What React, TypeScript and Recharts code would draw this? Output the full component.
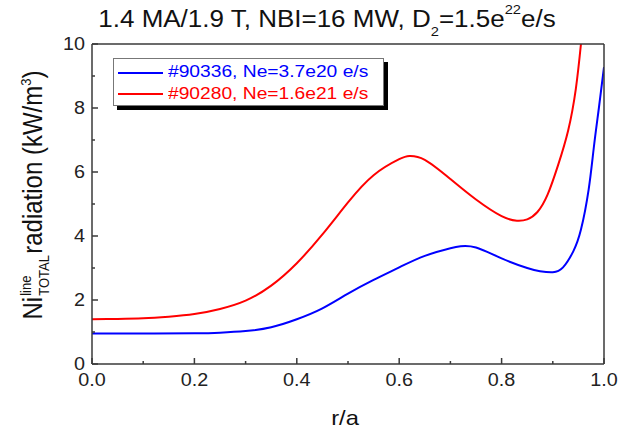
import { LineChart, Line, XAxis, YAxis } from "recharts";

// #90280 (red), Ne=1.6e21 e/s
const redR = [0, 0.05, 0.1, 0.15, 0.2, 0.25, 0.3, 0.35, 0.4, 0.45, 0.5, 0.55, 0.6, 0.62, 0.65, 0.7, 0.75, 0.8, 0.83, 0.85, 0.87, 0.89, 0.91, 0.93, 0.945, 0.955, 0.965];
const redV = [1.4, 1.41, 1.43, 1.48, 1.56, 1.72, 1.98, 2.45, 3.15, 4.05, 5.05, 5.9, 6.4, 6.5, 6.38, 5.78, 5.14, 4.62, 4.48, 4.52, 4.75, 5.3, 6.2, 7.3, 8.6, 10.0, 11.6];

// #90336 (blue), Ne=3.7e20 e/s
const blueR = [0, 0.1, 0.2, 0.25, 0.3, 0.35, 0.4, 0.45, 0.5, 0.55, 0.6, 0.65, 0.7, 0.72, 0.75, 0.8, 0.85, 0.875, 0.9, 0.92, 0.94, 0.955, 0.97, 0.98, 0.99, 1.0];
const blueV = [0.95, 0.95, 0.96, 0.98, 1.03, 1.15, 1.4, 1.74, 2.2, 2.63, 3.02, 3.38, 3.62, 3.68, 3.64, 3.3, 3.0, 2.9, 2.87, 3.02, 3.52, 4.2, 5.45, 6.75, 8.0, 9.28];

const xTicks = [0, 0.1, 0.2, 0.3, 0.4, 0.5, 0.6, 0.7, 0.8, 0.9, 1.0];
const yTicks = [0, 1, 2, 3, 4, 5, 6, 7, 8, 9, 10];

const redData = redR.map((r, i) => ({ r, v: redV[i] }));
const blueData = blueR.map((r, i) => ({ r, v: blueV[i] }));

const FONT = "'Liberation Sans', Arial, sans-serif";
const AXIS = "#3a3a3a";
const K = 1.13; // the reference is stretched sideways a little

const isMajorX = (v: number) => Math.round(v * 10) % 2 === 0;
const isMajorY = (v: number) => Math.round(v) % 2 === 0;

function BottomTick({ x, y, payload }: any) {
  const major = isMajorX(payload.value);
  return (
    <g>
      <line x1={x} x2={x} y1={y} y2={y - (major ? 6 : 3)} stroke={AXIS} strokeWidth={1.5} />
      {major && (
        <text
          transform={`translate(${x} ${y + 22}) scale(${K} 1)`}
          textAnchor="middle"
          fontSize={17.5}
          fontFamily={FONT}
          fill="#222"
        >
          {payload.value.toFixed(1)}
        </text>
      )}
    </g>
  );
}

function TopTick({ x, y, payload }: any) {
  const major = isMajorX(payload.value);
  return <line x1={x} x2={x} y1={y} y2={y + (major ? 6 : 3)} stroke={AXIS} strokeWidth={1.5} />;
}

function LeftTick({ x, y, payload }: any) {
  const major = isMajorY(payload.value);
  return (
    <g>
      <line x1={x} x2={x + (major ? 6 : 3)} y1={y} y2={y} stroke={AXIS} strokeWidth={1.5} />
      {major && (
        <text
          transform={`translate(${x - 7} ${y + 6.3}) scale(${K} 1)`}
          textAnchor="end"
          fontSize={17.5}
          fontFamily={FONT}
          fill="#222"
        >
          {payload.value}
        </text>
      )}
    </g>
  );
}

function RightTick({ x, y, payload }: any) {
  const major = isMajorY(payload.value);
  return <line x1={x} x2={x - (major ? 6 : 3)} y1={y} y2={y} stroke={AXIS} strokeWidth={1.5} />;
}

const small: any = { fontSize: 13, lineHeight: 0, position: "relative" };

export default function App() {
  return (
    <div style={{ position: "relative", width: 619, height: 434, background: "#fff", fontFamily: FONT }}>
      <style>{"body{margin:0}"}</style>
      <LineChart width={619} height={434} margin={{ top: 14, right: 0, bottom: 0, left: 0 }}>
        <XAxis
          dataKey="r"
          type="number"
          domain={[0, 1]}
          ticks={xTicks}
          interval={0}
          height={70}
          tickSize={0}
          tickMargin={0}
          tickLine={false}
          tick={<BottomTick />}
          axisLine={{ stroke: AXIS, strokeWidth: 1.5 }}
          allowDataOverflow
        />
        <XAxis
          xAxisId="top"
          orientation="top"
          type="number"
          domain={[0, 1]}
          ticks={xTicks}
          interval={0}
          height={30}
          tickSize={0}
          tickMargin={0}
          tickLine={false}
          tick={<TopTick />}
          axisLine={{ stroke: AXIS, strokeWidth: 1.5 }}
        />
        <YAxis
          type="number"
          domain={[0, 10]}
          ticks={yTicks}
          interval={0}
          width={92}
          tickSize={0}
          tickMargin={0}
          tickLine={false}
          tick={<LeftTick />}
          axisLine={{ stroke: AXIS, strokeWidth: 1.5 }}
          allowDataOverflow
        />
        <YAxis
          yAxisId="right"
          orientation="right"
          type="number"
          domain={[0, 10]}
          ticks={yTicks}
          interval={0}
          width={15}
          tickSize={0}
          tickMargin={0}
          tickLine={false}
          tick={<RightTick />}
          axisLine={{ stroke: AXIS, strokeWidth: 1.5 }}
        />
        <Line data={blueData} dataKey="v" type="natural" stroke="#0000ff" strokeWidth={2} dot={false} isAnimationActive={false} />
        <Line data={redData} dataKey="v" type="natural" stroke="#ff0000" strokeWidth={2} dot={false} isAnimationActive={false} />
      </LineChart>

      {/* title */}
      <div
        style={{
          position: "absolute",
          left: 0,
          top: 8,
          width: 654,
          textAlign: "center",
          fontSize: 23,
          lineHeight: "23px",
          color: "#111",
          whiteSpace: "nowrap",
          transform: `scaleX(${K})`,
        }}
      >
        1.4 MA/1.9 T, NBI=16 MW, D<span style={{ ...small, top: 9 }}>2</span>=1.5e
        <span style={{ ...small, top: -13 }}>22</span>e/s
      </div>

      {/* legend */}
      <div
        style={{
          position: "absolute",
          left: 113,
          top: 58,
          width: 271,
          height: 48,
          boxSizing: "border-box",
          border: "1px solid #777",
          background: "#fff",
          boxShadow: "4px 4px 0 #000",
        }}
      >
        <div style={{ position: "absolute", left: 4, top: 13, width: 45, height: 2, background: "#0000ff" }} />
        <div style={{ position: "absolute", left: 4, top: 34, width: 45, height: 2, background: "#ff0000" }} />
        <div
          style={{
            position: "absolute",
            left: 54,
            top: 4,
            fontSize: 17,
            lineHeight: "17px",
            color: "#0000ff",
            whiteSpace: "nowrap",
            transform: `scaleX(${K})`,
            transformOrigin: "left",
          }}
        >
          #90336, Ne=3.7e20 e/s
        </div>
        <div
          style={{
            position: "absolute",
            left: 54,
            top: 26,
            fontSize: 17,
            lineHeight: "17px",
            color: "#ff0000",
            whiteSpace: "nowrap",
            transform: `scaleX(${K})`,
            transformOrigin: "left",
          }}
        >
          #90280, Ne=1.6e21 e/s
        </div>
      </div>

      {/* x axis title */}
      <div
        style={{
          position: "absolute",
          left: 245,
          top: 407,
          width: 200,
          textAlign: "center",
          fontSize: 21,
          lineHeight: "21px",
          color: "#111",
          transform: `scaleX(${K})`,
        }}
      >
        r/a
      </div>

      {/* y axis title */}
      <div
        style={{
          position: "absolute",
          left: 32.6,
          top: 195,
          fontSize: 24,
          lineHeight: "24px",
          color: "#111",
          whiteSpace: "nowrap",
          transform: `translate(-50%, -50%) rotate(-90deg) scaleY(${K})`,
        }}
      >
        Ni
        <span style={{ position: "relative", display: "inline-block", width: 43, height: 1 }}>
          <span style={{ position: "absolute", left: 1, top: -20, fontSize: 13, lineHeight: "13px" }}>line</span>
          <span style={{ position: "absolute", left: 1, top: -4, fontSize: 13, lineHeight: "13px" }}>TOTAL</span>
        </span>
        radiation (kW/m<span style={{ ...small, top: -10 }}>3</span>)
      </div>
    </div>
  );
}
